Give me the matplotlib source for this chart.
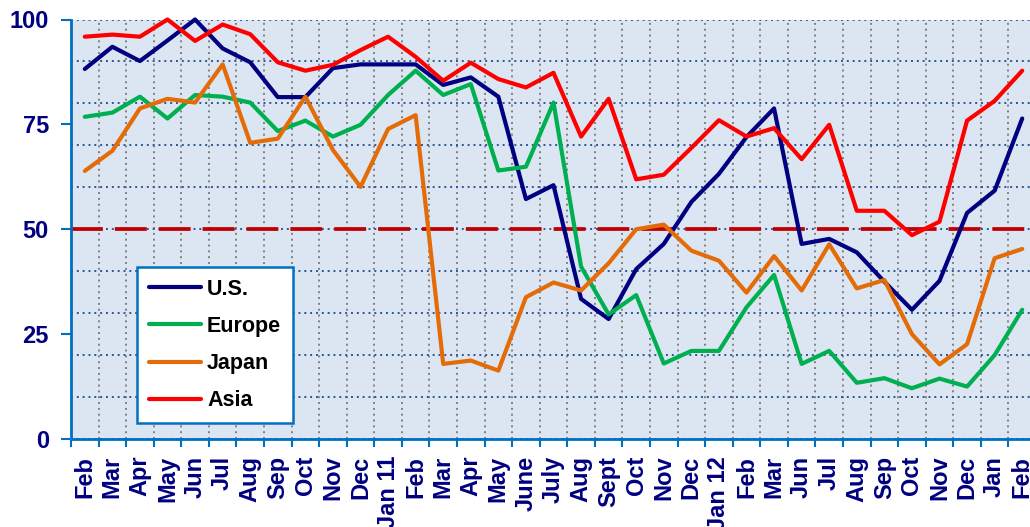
import matplotlib
matplotlib.use("Agg")
import matplotlib.pyplot as plt
from matplotlib.ticker import MultipleLocator, FixedLocator, NullFormatter

months = ["Feb", "Mar", "Apr", "May", "Jun", "Jul", "Aug", "Sep", "Oct", "Nov", "Dec",
          "Jan 11", "Feb", "Mar", "Apr", "May", "June", "July", "Aug", "Sept", "Oct",
          "Nov", "Dec", "Jan 12", "Feb", "Mar", "Jun", "Jul", "Aug", "Sep", "Oct",
          "Nov", "Dec", "Jan", "Feb"]

us = [88.2, 93.5, 90.1, 95.0, 100, 93.1, 89.8, 81.5, 81.5, 88.4,
      89.3, 89.3, 89.3, 84.4, 86.2, 81.6, 57.2, 60.5, 33.4, 28.6,
      40.5, 46.5, 56.5, 63.2, 72.0, 78.8, 46.5, 47.7, 44.5, 37.5,
      30.8, 37.7, 53.9, 59.2, 76.4]
europe = [76.8, 77.8, 81.6, 76.4, 82.0, 81.6, 80.2, 73.4, 75.9, 72.1,
          74.9, 82.0, 87.8, 82.0, 84.6, 64.0, 64.9, 80.2, 41.1, 29.7,
          34.3, 18.0, 21.0, 21.0, 31.4, 39.1, 17.9, 21.0, 13.4, 14.5,
          12.1, 14.4, 12.5, 20.0, 30.8]
japan = [63.9, 68.7, 78.8, 81.1, 80.2, 89.3, 70.6, 71.6, 81.6, 68.9,
         60.1, 73.9, 77.2, 17.9, 18.7, 16.3, 33.8, 37.3, 35.4, 41.9,
         50.0, 51.1, 44.9, 42.5, 34.9, 43.6, 35.4, 46.4, 35.9, 37.9,
         25.0, 17.8, 22.6, 43.1, 45.3]
asia = [95.9, 96.4, 95.9, 100, 94.9, 98.8, 96.5, 89.8, 87.8, 89.2,
        92.7, 95.9, 91.1, 85.4, 89.7, 85.8, 83.8, 87.3, 72.1, 81.1,
        61.9, 63.0, 69.4, 76.0, 72.1, 74.1, 66.7, 74.9, 54.4, 54.4,
        48.6, 51.8, 75.9, 80.6, 87.8]
threshold = 50

series = [("U.S.", us, "#000080"),
          ("Europe", europe, "#00b050"),
          ("Japan", japan, "#e36c09"),
          ("Asia", asia, "#ff0000")]

plt.rcParams["font.family"] = ["Liberation Sans", "DejaVu Sans"]
plt.rcParams["font.weight"] = "bold"

axis_blue = "#0070c0"
label_navy = "#000080"

fig = plt.figure(figsize=(10.3, 5.27), dpi=100)
ax = fig.add_axes([71 / 1030, 1 - 439 / 527, 965 / 1030, 419.5 / 527])
ax.set_facecolor("#dce6f2")

x = list(range(len(months)))
ax.axhline(threshold, color="#c00000", lw=2.7, dashes=(8.5, 3.2), zorder=2)
for name, vals, col in series:
    ax.plot(x, vals, color=col, lw=3, label=name, solid_joinstyle="round",
            solid_capstyle="round", clip_on=False, zorder=3)

ax.set_xlim(-0.5, len(months) - 0.5)
ax.set_ylim(0, 100)

# y axis: labels every 25, dotted grid every 10
ax.yaxis.set_major_locator(MultipleLocator(25))
ax.yaxis.set_minor_locator(MultipleLocator(10))
ax.yaxis.remove_overlapping_locs = False
ax.grid(True, which="minor", axis="y", color="#2f5597", ls=(0, (1, 2)), lw=1.4)
ax.tick_params(axis="y", which="major", length=7, width=1.5, color=axis_blue,
               labelsize=17, labelcolor=label_navy, pad=9)
ax.tick_params(axis="y", which="minor", length=0)

# x axis: ticks on category boundaries, labels at centers
ax.xaxis.set_major_locator(FixedLocator([i - 0.5 for i in range(len(months) + 1)]))
ax.xaxis.set_major_formatter(NullFormatter())
ax.xaxis.set_minor_locator(FixedLocator(x))
ax.set_xticks(x, months, minor=True, rotation=90)
ax.grid(True, which="major", axis="x", color="#808080", ls=(0, (1, 2)), lw=1.4)
ax.tick_params(axis="x", which="major", length=6, width=1.5, color=axis_blue)
ax.tick_params(axis="x", which="minor", length=0, labelsize=17,
               labelcolor=label_navy, pad=12)
ax.set_axisbelow(True)

for s in ["top", "right"]:
    ax.spines[s].set_visible(False)
for s in ["left", "bottom"]:
    ax.spines[s].set_color(axis_blue)
    ax.spines[s].set_linewidth(2)
    ax.spines[s].set_zorder(4)

leg = ax.legend(loc="lower left", bbox_to_anchor=(0.0684, 0.038), fontsize=15.5,
                frameon=True, fancybox=False, framealpha=1, borderpad=0.55,
                handlelength=2.4, handletextpad=0.3, labelspacing=0.75,
                borderaxespad=0)
leg.get_frame().set_edgecolor(axis_blue)
leg.get_frame().set_linewidth(1.8)
for line in leg.get_lines():
    line.set_linewidth(3)

fig.savefig("out.png", dpi=100)
